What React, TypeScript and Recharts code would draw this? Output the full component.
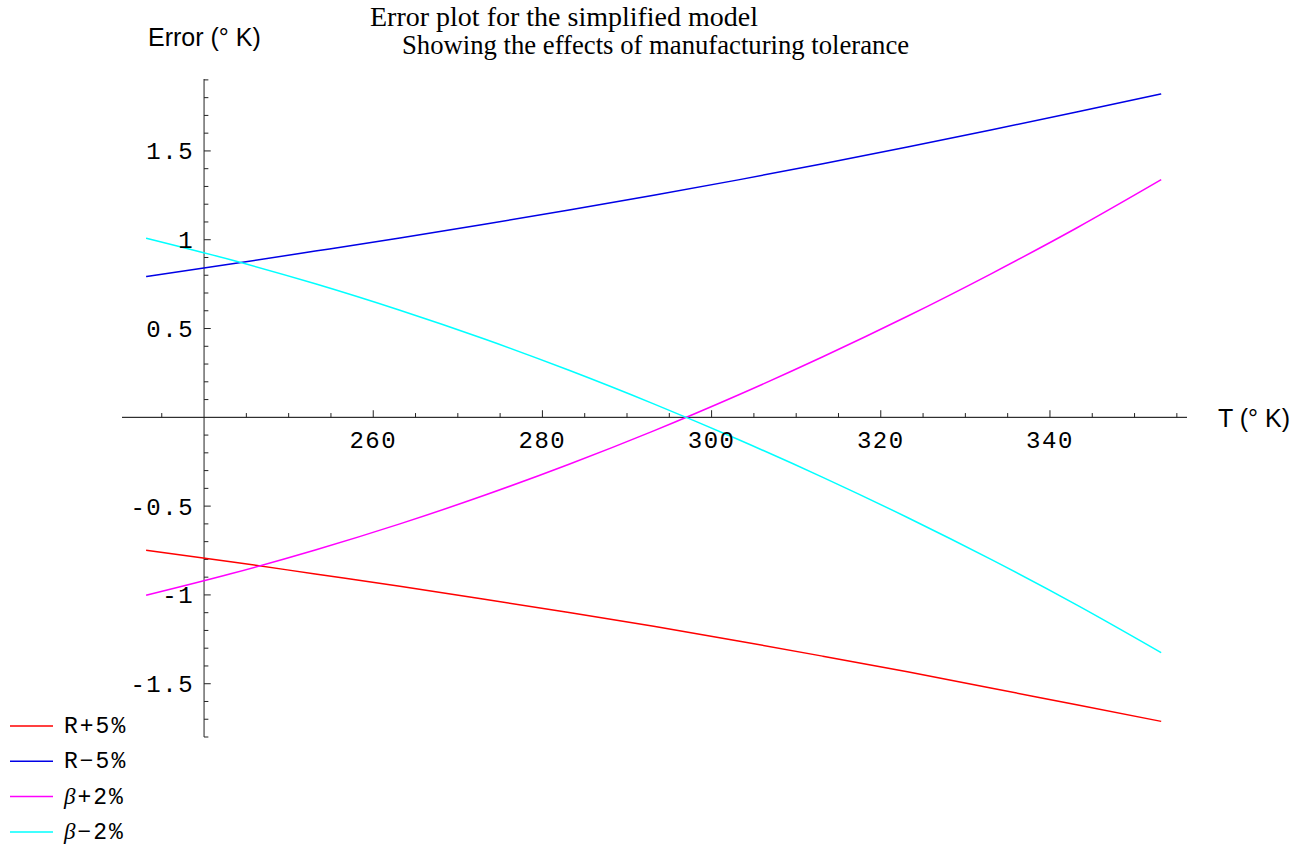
import { Legend, Line, LineChart, ReferenceLine, XAxis, YAxis } from 'recharts';

// temperatures in K, -40 C .. 80 C
const temperatures = [233.15, 243.15, 253.15, 263.15, 273.15, 283.15, 293.15, 303.15, 313.15, 323.15, 333.15, 343.15, 353.15];

// error in K
const rPlus5 = [-0.748, -0.813, -0.882, -0.951, -1.024, -1.099, -1.177, -1.259, -1.345, -1.433, -1.525, -1.619, -1.712];
const rMinus5 = [0.793, 0.863, 0.936, 1.01, 1.087, 1.167, 1.25, 1.337, 1.428, 1.522, 1.619, 1.719, 1.821];
const betaPlus2 = [-1.002, -0.881, -0.747, -0.6, -0.439, -0.264, -0.076, 0.126, 0.341, 0.569, 0.811, 1.066, 1.338];
const betaMinus2 = [1.009, 0.887, 0.752, 0.603, 0.441, 0.265, 0.076, -0.125, -0.338, -0.564, -0.803, -1.056, -1.325];

const xMajorTicks = [260, 280, 300, 320, 340];
const xMajorLabels = ['260', '280', '300', '320', '340'];
const xMinorTicks = [235, 245, 250, 255, 265, 270, 275, 285, 290, 295, 305, 310, 315, 325, 330, 335, 345, 350, 355];
const yMajorTicks = [-1.5, -1, -0.5, 0.5, 1, 1.5];
const yMajorLabels = ['-1.5', '-1', '-0.5', '0.5', '1', '1.5'];
const yMinorTicks = [
  -1.8, -1.7, -1.6, -1.4, -1.3, -1.2, -1.1, -0.9, -0.8, -0.7, -0.6, -0.4, -0.3, -0.2, -0.1,
  0.1, 0.2, 0.3, 0.4, 0.6, 0.7, 0.8, 0.9, 1.1, 1.2, 1.3, 1.4, 1.6, 1.7, 1.8, 1.9,
];

const series = [
  { key: 'rPlus5', values: rPlus5, color: '#ff0000', label: 'R+5%' },
  { key: 'rMinus5', values: rMinus5, color: '#0000e6', label: 'R\u22125%' },
  { key: 'betaPlus2', values: betaPlus2, color: '#ff00ff', label: '\u03b2+2%' },
  { key: 'betaMinus2', values: betaMinus2, color: '#00ffff', label: '\u03b2\u22122%' },
];

const data = temperatures.map((t, i) => {
  const row: Record<string, number> = { t };
  series.forEach((s) => {
    row[s.key] = s.values[i];
  });
  return row;
});

const Y_AXIS_AT = 240;
const tickFont = { fontFamily: '"Liberation Mono", monospace', fontSize: 24, fill: '#000', letterSpacing: 1.5 };

const LegendBox = () => (
  <svg width={200} height={136} style={{ overflow: 'visible' }}>
    {series.map((s, i) => {
      const y = 16 + i * 35.3;
      const greek = s.label.startsWith('\u03b2');
      return (
        <g key={s.key}>
          <line x1={10} x2={53} y1={y} y2={y} stroke={s.color} strokeWidth={1.5} />
          <text x={64} y={y + 7} fontFamily='"Liberation Mono", monospace' fontSize={23} letterSpacing={2}>
            {greek ? (
              <>
                <tspan fontFamily='"Liberation Serif", serif' fontStyle="italic">
                  {'\u03b2'}
                </tspan>
                {s.label.slice(1)}
              </>
            ) : (
              s.label
            )}
          </text>
        </g>
      );
    })}
  </svg>
);

export default function App() {
  return (
    <div style={{ position: 'absolute', left: 0, top: 0, width: 1305, height: 846, background: '#fff' }}>
      <LineChart width={1305} height={846} data={data} margin={{ top: 79, right: 118, bottom: 109, left: 122 }}>
        <XAxis type="number" dataKey="t" domain={[230.3, 356.2]} allowDataOverflow hide />
        <YAxis type="number" domain={[-1.8, 1.905]} allowDataOverflow hide />

        <ReferenceLine y={0} stroke="#000" strokeWidth={1} />
        <ReferenceLine x={Y_AXIS_AT} stroke="#222" strokeWidth={1} />

        {xMinorTicks.map((v) => (
          <ReferenceLine key={`xm${v}`} segment={[{ x: v, y: 0 }, { x: v, y: 0.024 }]} stroke="#222" />
        ))}
        {xMajorTicks.map((v, i) => (
          <ReferenceLine
            key={`xM${v}`}
            segment={[{ x: v, y: 0 }, { x: v, y: 0.04 }]}
            stroke="#222"
            label={{ value: xMajorLabels[i], position: 'bottom', offset: 14, ...tickFont }}
          />
        ))}
        {yMinorTicks.map((v) => (
          <ReferenceLine key={`ym${v}`} segment={[{ x: Y_AXIS_AT, y: v }, { x: Y_AXIS_AT + 0.51, y: v }]} stroke="#222" />
        ))}
        {yMajorTicks.map((v, i) => (
          <ReferenceLine
            key={`yM${v}`}
            segment={[{ x: Y_AXIS_AT, y: v }, { x: Y_AXIS_AT + 0.79, y: v }]}
            stroke="#222"
            label={{ value: yMajorLabels[i], position: 'left', offset: 10, ...tickFont }}
          />
        ))}

        {series.map((s) => (
          <Line
            key={s.key}
            type="monotone"
            dataKey={s.key}
            name={s.label}
            stroke={s.color}
            strokeWidth={1.5}
            dot={false}
            isAnimationActive={false}
          />
        ))}

        <Legend
          layout="vertical"
          align="center"
          verticalAlign="middle"
          wrapperStyle={{ left: 0, top: 710, width: 200, height: 136 }}
          content={() => <LegendBox />}
        />
      </LineChart>

      <svg
        width={1305}
        height={846}
        style={{ position: 'absolute', left: 0, top: 0, pointerEvents: 'none' }}
      >
        <text x={148} y={46} fontFamily='"Liberation Sans", Arial, sans-serif' fontSize={25}>
          Error (° K)
        </text>
        <text x={1218} y={427} fontFamily='"Liberation Sans", Arial, sans-serif' fontSize={25}>
          T (° K)
        </text>
        <text x={370} y={26} fontFamily='"Liberation Serif", "Times New Roman", serif' fontSize={28}>
          Error plot for the simplified model
        </text>
        <text x={402} y={54} fontFamily='"Liberation Serif", "Times New Roman", serif' fontSize={26.7}>
          Showing the effects of manufacturing tolerance
        </text>
      </svg>
    </div>
  );
}
